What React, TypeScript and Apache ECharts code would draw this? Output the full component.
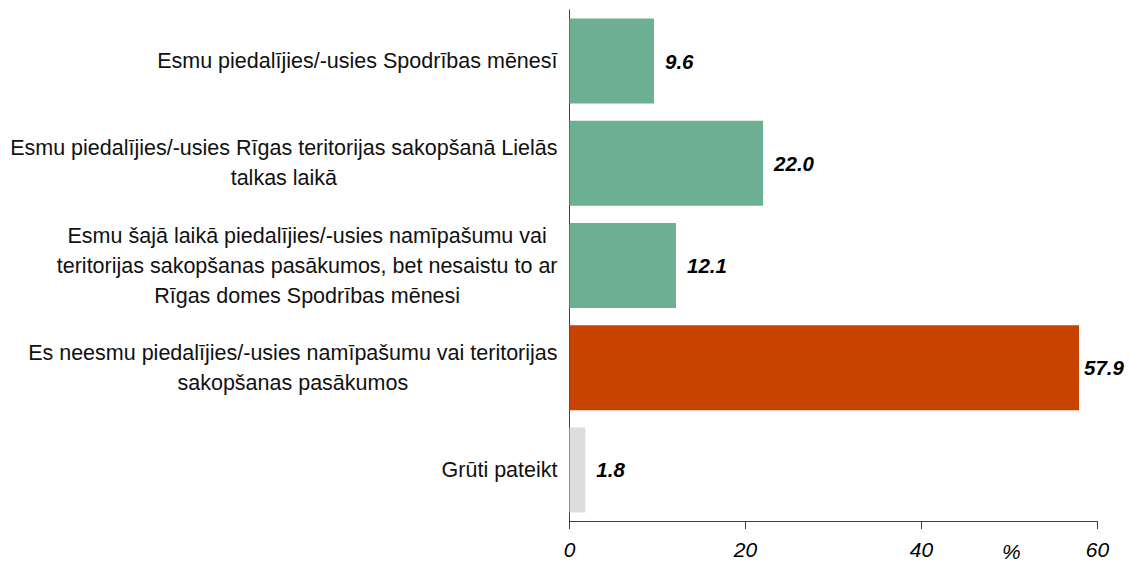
import React, { useEffect, useRef } from "react";
import * as echarts from "echarts";

// Survey answers (top to bottom) and their shares in %
const categories: string[] = [
  "Esmu piedalījies/-usies Spodrības mēnesī",
  "Esmu piedalījies/-usies Rīgas teritorijas sakopšanā Lielās\ntalkas laikā",
  "Esmu šajā laikā piedalījies/-usies namīpašumu vai\nteritorijas sakopšanas pasākumos, bet nesaistu to ar\nRīgas domes Spodrības mēnesi",
  "Es neesmu piedalījies/-usies namīpašumu vai teritorijas\nsakopšanas pasākumos",
  "Grūti pateikt",
];
const values: number[] = [9.6, 22.0, 12.1, 57.9, 1.8];
const barColors: string[] = ["#6daf92", "#6daf92", "#6daf92", "#c84300", "#dddddd"];
const axisTicks = { min: 0, max: 60, interval: 20 };
const unitLabel = "%";

const FONT = "'Liberation Sans', Arial, sans-serif";

export default function App() {
  const ref = useRef<HTMLDivElement>(null);

  useEffect(() => {
    if (!ref.current) return;
    const chart = echarts.init(ref.current, null, { renderer: "svg" });

    const option: echarts.EChartsOption = {
      animation: false,
      backgroundColor: "#ffffff",
      grid: { left: 569.5, right: 33.5, top: 10, bottom: 42 },
      xAxis: {
        type: "value",
        min: axisTicks.min,
        max: axisTicks.max,
        interval: axisTicks.interval,
        splitLine: { show: false },
        axisLine: { show: true, lineStyle: { color: "#404040", width: 1 } },
        axisTick: { show: true, length: 8, lineStyle: { color: "#404040" } },
        axisLabel: {
          margin: 18,
          fontFamily: FONT,
          fontSize: 21,
          fontStyle: "italic",
          color: "#000",
        },
      },
      yAxis: {
        type: "category",
        inverse: true,
        data: categories,
        axisLine: { show: true, lineStyle: { color: "#404040", width: 1 } },
        axisTick: { show: false },
        axisLabel: {
          margin: 12,
          align: "right",
          formatter: (v: string) =>
            v
              .split("\n")
              .map((line) => `{c|${line}}`)
              .join("\n"),
          rich: {
            c: {
              align: "center",
              fontFamily: FONT,
              fontSize: 21.5,
              lineHeight: 30,
              color: "#111",
            },
          },
        },
      },
      series: [
        {
          type: "bar",
          barWidth: 85,
          data: values.map((v, i) => ({
            value: v,
            itemStyle: { color: barColors[i] },
            label: { distance: i === 3 ? 5 : 11 },
          })),
          label: {
            show: true,
            position: "right",
            formatter: (p: any) => Number(p.value).toFixed(1),
            fontFamily: FONT,
            fontSize: 20.5,
            fontWeight: "bold",
            fontStyle: "italic",
            color: "#000",
          },
        },
      ],
      graphic: [
        {
          type: "text",
          left: 1002,
          top: 541,
          style: {
            text: unitLabel,
            fontFamily: FONT,
            fontSize: 21,
            fontStyle: "italic",
            fill: "#000",
          },
        },
      ],
    };

    chart.setOption(option);
    return () => chart.dispose();
  }, []);

  return (
    <div
      ref={ref}
      style={{ position: "absolute", left: 0, top: 0, width: 1131, height: 563 }}
    />
  );
}
